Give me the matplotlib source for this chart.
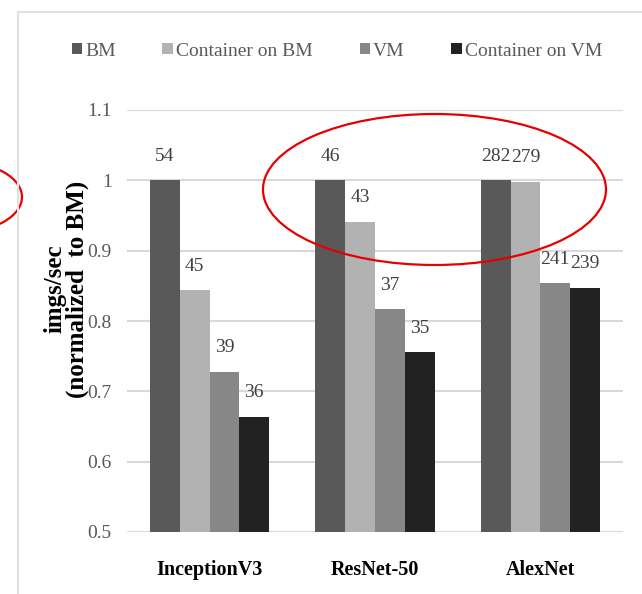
import numpy as np
import matplotlib.pyplot as plt
from matplotlib.patches import Ellipse, Patch
from matplotlib.lines import Line2D

plt.rcParams['font.family'] = ['Liberation Serif', 'DejaVu Serif']

models = ['InceptionV3', 'ResNet-50', 'AlexNet']
series = ['BM', 'Container on BM', 'VM', 'Container on VM']
colors = ['#595959', '#b2b2b2', '#878787', '#222222']

# throughput normalized to bare metal
bm = [1.0, 1.0, 1.0]
container_bm = [0.844, 0.941, 0.998]
vm = [0.728, 0.817, 0.854]
container_vm = [0.664, 0.756, 0.847]

# raw imgs/sec printed above each bar
bm_raw = [54, 46, 282]
container_bm_raw = [45, 43, 279]
vm_raw = [39, 37, 241]
container_vm_raw = [36, 35, 239]

yticks = [0.5, 0.6, 0.7, 0.8, 0.9, 1.0, 1.1]
ytick_labels = ['0.5', '0.6', '0.7', '0.8', '0.9', '1', '1.1']

values = [bm, container_bm, vm, container_vm]
raws = [bm_raw, container_bm_raw, vm_raw, container_vm_raw]

W, H = 642, 594
fig = plt.figure(figsize=(W / 100, H / 100), dpi=100)
ax = fig.add_axes([127 / W, 1 - 532 / H, 496 / W, 422 / H])

x = np.arange(len(models))
bw = 0.18
for k, (vals, raw) in enumerate(zip(values, raws)):
    pos = x + (k - 1.5) * bw
    ax.bar(pos, vals, bw, bottom=0, color=colors[k], label=series[k], zorder=2)
    for px, v, r in zip(pos, vals, raw):
        ax.annotate(str(r), (px, v), xytext=(0, 14), textcoords='offset points',
                    ha='center', va='baseline', fontsize=14, color='#404040')

ax.set_ylim(0.5, 1.1)
ax.set_xlim(-0.5, 2.5)
ax.set_yticks(yticks)
ax.set_yticklabels(ytick_labels)
ax.set_xticks(x)
ax.set_xticklabels(models, fontweight='bold', fontsize=14.5)
ax.tick_params(axis='y', length=0, pad=11, labelsize=14, labelcolor='#595959')
ax.tick_params(axis='x', length=0, pad=20, labelcolor='black')
ax.grid(axis='y', color='#d9d9d9', lw=1.5, zorder=0)
for s in ax.spines.values():
    s.set_visible(False)

fig.text(66 / W, 1 - 289 / H, 'imgs/sec\n(normalized  to BM)', rotation=90,
         ha='center', va='center', fontsize=18, fontweight='bold',
         linespacing=0.95, multialignment='center')

handles = [Patch(facecolor=c, edgecolor='none') for c in colors]
fig.legend(handles, series, loc='center', bbox_to_anchor=(337 / W, 1 - 51 / H),
           ncol=4, frameon=False, fontsize=14, handlelength=0.55, handleheight=0.55,
           handletextpad=0.15, columnspacing=2.4, labelcolor='#595959')

# light frame around the chart area
fig.add_artist(Line2D([18 / W, 18 / W], [0, 1 - 12 / H], transform=fig.transFigure,
                      color='#e2e2e2', lw=1.5))
fig.add_artist(Line2D([18 / W, 1], [1 - 12 / H, 1 - 12 / H], transform=fig.transFigure,
                      color='#e2e2e2', lw=1.5))

# red highlight ellipses
fig.add_artist(Ellipse((434.5 / W, 1 - 189.5 / H), 343 / W, 151 / H,
                       transform=fig.transFigure, fill=False, ec='#e60000', lw=1.6))
fig.add_artist(Ellipse((-40 / W, 1 - 197 / H), 124 / W, 70 / H,
                       transform=fig.transFigure, fill=False, ec='#e60000', lw=1.6))

fig.savefig('out.png', dpi=100)
